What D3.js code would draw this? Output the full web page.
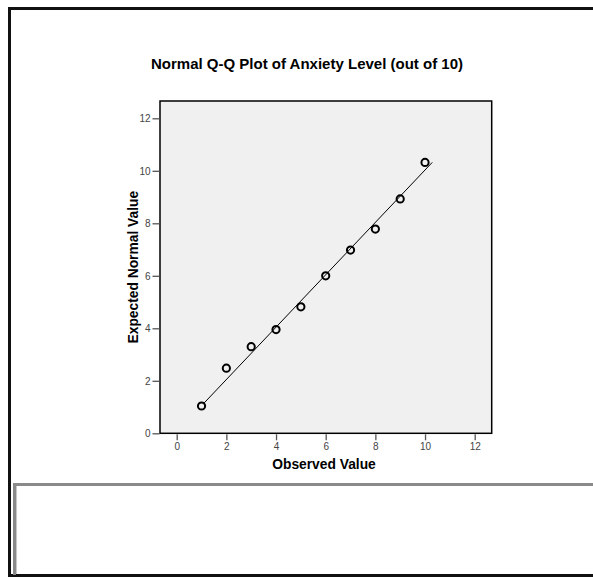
<!DOCTYPE html>
<html>
<head>
    <meta charset="utf-8" />
    <title>Normal Q-Q Plot</title>
    <style>
        body { margin: 0; background: #fff; }
        text { font-family: "Liberation Sans", Arial, sans-serif; }
        .tick text { fill: #444; font-size: 10px; }
        .tick line { stroke: #555; }
    </style>
</head>
<body>
    <div id="chart"></div>
    <script src="https://cdn.jsdelivr.net/npm/d3@7"></script>
    <script>
        // data
        var observed = [1, 2, 3, 4, 5, 6, 7, 8, 9, 10];
        var expected = [1.04, 2.48, 3.30, 3.95, 4.82, 6.00, 6.98, 7.78, 8.93, 10.32];
        var lineX = [1.07, 10.29];
        var lineY = [1.12, 10.32];
        var tickValues = [0, 2, 4, 6, 8, 10, 12];

        var W = 593, H = 577;
        var plot = { left: 160, right: 491.7, top: 101, bottom: 433.3 };

        var svg = d3.select("#chart")
            .append("svg")
            .attr("width", W)
            .attr("height", H);

        // outer frame (black) and lower gray panel
        svg.append("rect").attr("x", 0).attr("y", 0).attr("width", W).attr("height", H).attr("fill", "#fff");
        svg.append("path")
            .attr("d", "M" + (W + 5) + ",8.5 H9.5 V575.5 H" + (W + 5))
            .attr("fill", "none")
            .attr("stroke", "#111")
            .attr("stroke-width", 3);
        svg.append("path")
            .attr("d", "M" + (W + 5) + ",484.5 H14.5 V575")
            .attr("fill", "none")
            .attr("stroke", "#8a8a8a")
            .attr("stroke-width", 3);
        svg.append("line")
            .attr("x1", 16.5).attr("x2", 16.5).attr("y1", 486).attr("y2", 574)
            .attr("stroke", "#c8c8c8").attr("stroke-width", 1);

        var x = d3.scaleLinear().domain([0, 12]).range([176.7, 474.7]);
        var y = d3.scaleLinear().domain([0, 12]).range([433.3, 118.3]);

        // plot background
        svg.append("rect")
            .attr("x", plot.left)
            .attr("y", plot.top)
            .attr("width", plot.right - plot.left)
            .attr("height", plot.bottom - plot.top)
            .attr("fill", "#f0f0f0")
            .attr("stroke", "#000")
            .attr("stroke-width", 1.5);

        // axes
        var yAxis = d3.axisLeft(y).tickValues(tickValues).tickSize(7).tickPadding(2);
        var xAxis = d3.axisBottom(x).tickValues(tickValues).tickSize(6).tickPadding(3);

        svg.append("g")
            .attr("class", "y axis")
            .attr("transform", "translate(" + (plot.left - 0.5) + ",0)")
            .call(yAxis)
            .call(g => g.select(".domain").remove());
        svg.append("g")
            .attr("class", "x axis")
            .attr("transform", "translate(0," + (plot.bottom + 1) + ")")
            .call(xAxis)
            .call(g => g.select(".domain").remove());
        svg.selectAll(".tick line").attr("stroke-width", 1.3);

        // reference line
        svg.append("line")
            .attr("x1", x(lineX[0])).attr("y1", y(lineY[0]))
            .attr("x2", x(lineX[1])).attr("y2", y(lineY[1]))
            .attr("stroke", "#000")
            .attr("stroke-width", 1);

        // points
        svg.selectAll(".pt")
            .data(observed)
            .join("circle")
            .attr("class", "pt")
            .attr("cx", d => x(d))
            .attr("cy", (d, i) => y(expected[i]))
            .attr("r", 3.6)
            .attr("fill", "none")
            .attr("stroke", "#000")
            .attr("stroke-width", 2);

        // titles
        svg.append("text")
            .attr("x", 307)
            .attr("y", 69)
            .attr("text-anchor", "middle")
            .style("font-size", "15px")
            .style("font-weight", "bold")
            .text("Normal Q-Q Plot of Anxiety Level (out of 10)");

        svg.append("text")
            .attr("x", 324)
            .attr("y", 468.5)
            .attr("text-anchor", "middle")
            .style("font-size", "13.8px")
            .style("font-weight", "bold")
            .text("Observed Value");

        svg.append("text")
            .attr("transform", "translate(137.5," + ((plot.top + plot.bottom) / 2) + ") rotate(-90)")
            .attr("text-anchor", "middle")
            .style("font-size", "13.8px")
            .style("font-weight", "bold")
            .text("Expected Normal Value");
    </script>
</body>
</html>
